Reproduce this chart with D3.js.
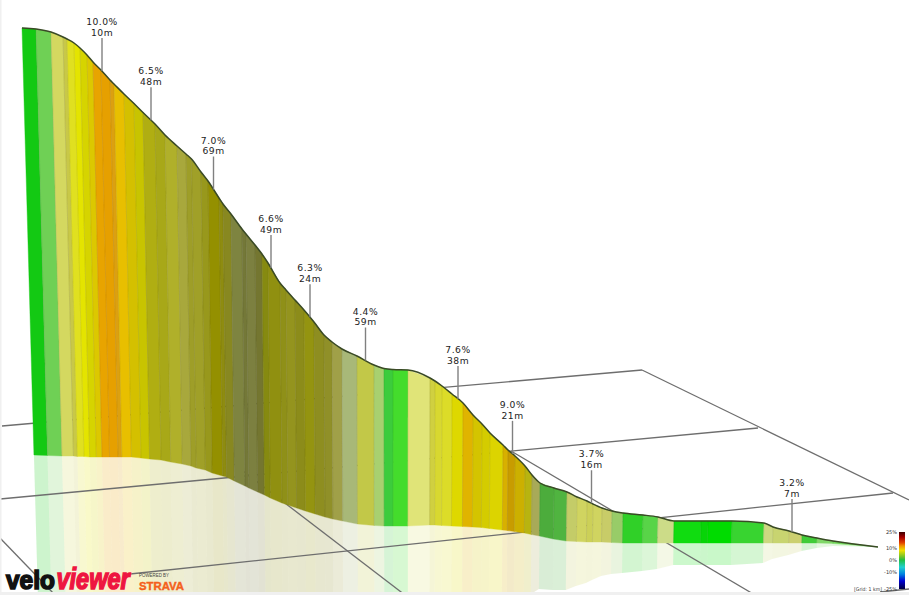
<!DOCTYPE html>
<html>
<head>
<meta charset="utf-8">
<title>Climb profile</title>
<script src="https://cdn.jsdelivr.net/npm/d3@7"></script>
<style>
  html, body { margin: 0; padding: 0; background: #fff; }
  svg { display: block; }
</style>
</head>
<body>
<svg id="chart" width="909" height="595"></svg>
<script>
// distance along the climb (m)
var distance = [0,140,290,410,450,520,580,650,710,790,
  880,920,1020,1120,1210,1330,1430,1550,1640,1695,
  1790,1860,1970,2010,2090,2200,2240,2330,2400,2460,
  2580,2640,2730,2820,2920,3020,3100,3200,3350,3520,
  3620,3710,3860,4080,4130,4200,4300,4410,4510,4600,
  4680,4810,4860,4930,5030,5100,5180,5320,5450,5550,
  5650,5710,5800,5900,6010,6210,6360,6520,6790,6860,
  7100,7420,7510,7670,7800,7950,8110,8560];
var elevation = [519,518,515,510,508,504,499,492,485,477,
  467,463,453,443.5,434.5,423,412,401,393,388,
  375,366,349,343,333,318,313,302,293,284,
  264,257,247,237,225,212,205,198,191,182,
  178.5,177.5,177,169,166,161,153,144,132,123,
  114,102,97,91,81,72,64,59,55,50,
  46,43,39,36,34,32,30,26,26,26,
  26,24,20,16,12,9,6,0];
var ground = [92,91.5,91,91,90.5,90.5,90,90,90,90,
  90,90,90,89,88,87,85,83,81,79,
  77,74,71,70,66,61,59,55,52,49,
  44,42,39,36,33,30,28,26,23,21.5,
  21,21,21,22,22,21.5,21,20.5,20,19.5,
  18.5,17,16.5,15.5,14,12.5,11,8,6,5.5,
  5,5,5,4.5,4,4,4,4,4,4,
  4,4,4,4,4,4,3.5,0];
var segmentColors = ['#13c913','#6fd055','#d4d860','#c8c848','#e0e020','#e4e400','#d6d400','#dcc800','#e8a400','#e6a000',
  '#dca010','#e8bf00','#d4c000','#c8c400','#b0ae12','#a8a818','#b0b02a','#a8a83c','#9e9e28','#a0a028',
  '#98981c','#949000','#8e8c10','#888820','#7e8440','#747838','#7c8040','#747630','#868a10','#909010',
  '#8f9018','#94941e','#8c8c1a','#949410','#8e8e20','#909028','#a0a048','#a8b878','#c2c848','#a8d070',
  '#3ccc3c','#44dc2c','#e0e478','#d0d040','#d8d830','#dcdc28','#ded800','#e0b400','#d4c400','#d4cc00',
  '#dcd400','#d8b000','#c89c00','#ccb000','#b8b410','#a8aa58','#4cac3c','#50b440','#c4cc68','#d0d460',
  '#ccd058','#d0d460','#c8cc68','#98cc68','#30d028','#58d448','#ccdc88','#10dc10','#08d408','#00dc00',
  '#38d430','#ccd880','#c8d470','#ccd070','#40cc38','#80d868','#70d858'];

var labelDistance = [800,1290,1915,2490,2880,3435,4360,4905,5695,7700];
var labelGradient = ['10.0%','6.5%','7.0%','6.6%','6.3%','4.4%','7.6%','9.0%','3.7%','3.2%'];
var labelLength = ['10m','48m','69m','49m','24m','59m','38m','21m','16m','7m'];

var legendGrades = [25,10,0,-10,-25];
var legendTicks = ['25%','10%','0%','-10%','-25%'];
var legendStops = [[25,'#3c0000'],[20,'#a80000'],[15,'#e04000'],[12,'#f09000'],[8,'#f0e000'],[2,'#60c030'],[0,'#20c040'],[-6,'#20d0d0'],[-12,'#0080e0'],[-18,'#0000d0'],[-25,'#000040']];

// floor grid lines, as [x1, y1, x2, y2] on the photo
var gridLines = [[2,426,642,370],[642,370,909,500],[0,499,758,428],[130,574,893,493],
  [0,538,55,595],[230,461,405,595],[511,451,755,595],[880,592,909,589]];

var W = 909, H = 595;
var svg = d3.select('#chart');
var x = d3.scaleLinear().domain([0, 8560]).range([22, 878]);
var y = d3.scaleLinear().domain([0, 519]).range([547, 28]);
var elevationAt = d3.scaleLinear().domain(distance).range(elevation);

// the walls lean towards a vanishing point near the middle of the view
function lean(px, dy) { return (400 - px) * dy * 7.4e-5; }

var points = distance.map(function(d, i) {
  var px = x(d), top = y(elevation[i]), base = y(ground[i]);
  var mirror = 2 * base - top;
  return {
    top: [px, top],
    base: [px + lean(px, base - top), base],
    mirror: [px + lean(px, mirror - top), mirror]
  };
});
var segments = segmentColors.map(function(c, i) { return { color: c, a: points[i], b: points[i + 1] }; });

svg.append('rect').attr('width', W).attr('height', H).attr('fill', '#fff');

// reflection on the floor
svg.append('g').selectAll('polygon').data(segments).enter().append('polygon')
  .attr('points', function(d) { return [d.a.base, d.b.base, d.b.mirror, d.a.mirror].join(' '); })
  .attr('fill', function(d) { return d.color; }).attr('fill-opacity', 0.21);

svg.append('g').selectAll('line').data(gridLines).enter().append('line')
  .attr('x1', function(d) { return d[0]; }).attr('y1', function(d) { return d[1]; })
  .attr('x2', function(d) { return d[2]; }).attr('y2', function(d) { return d[3]; })
  .attr('stroke', '#6e6e6e').attr('stroke-width', 1.3);

// coloured wall
svg.append('g').selectAll('polygon').data(segments).enter().append('polygon')
  .attr('points', function(d) { return [d.a.top, d.b.top, d.b.base, d.a.base].join(' '); })
  .attr('fill', function(d) { return d.color; })
  .attr('stroke', function(d) { return d.color; }).attr('stroke-width', 0.4);

svg.append('g').selectAll('line').data(points.slice(1, -1)).enter().append('line')
  .attr('x1', function(d) { return d.top[0]; }).attr('y1', function(d) { return d.top[1]; })
  .attr('x2', function(d) { return d.base[0]; }).attr('y2', function(d) { return d.base[1]; })
  .attr('stroke', '#000').attr('stroke-opacity', 0.1).attr('stroke-width', 0.8);

var profile = d3.line().x(function(d) { return d.top[0]; }).y(function(d) { return d.top[1]; }).curve(d3.curveMonotoneX);
svg.append('path').attr('d', profile(points)).attr('fill', 'none').attr('stroke', '#3a4a26').attr('stroke-width', 1.5);

// gradient callouts
var callouts = svg.append('g').selectAll('g').data(labelDistance).enter().append('g')
  .attr('transform', function(d) { return 'translate(' + x(d) + ',' + y(elevationAt(d)) + ')'; });
callouts.append('line').attr('y1', -33).attr('y2', 0).attr('stroke', '#808080').attr('stroke-width', 1.4);
callouts.append('text').attr('y', -46).text(function(d, i) { return labelGradient[i]; });
callouts.append('text').attr('y', -35.2).text(function(d, i) { return labelLength[i]; });
callouts.selectAll('text').attr('text-anchor', 'middle').attr('fill', '#222')
  .attr('font-family', 'DejaVu Sans, sans-serif').attr('font-size', 9.2).attr('letter-spacing', 0.5);

// colour legend
var legendY = d3.scaleLinear().domain([-25, -10, 0, 10, 25]).range([589, 572, 560, 548, 532]);
var defs = svg.append('defs');
var grad = defs.append('linearGradient').attr('id', 'gradeScale').attr('x1', 0).attr('y1', 0).attr('x2', 0).attr('y2', 1);
legendStops.forEach(function(s) {
  grad.append('stop').attr('offset', (legendY(s[0]) - 532) / 57).attr('stop-color', s[1]);
});
svg.append('rect').attr('x', 899).attr('y', legendY(25)).attr('width', 6).attr('height', legendY(-25) - legendY(25)).attr('fill', 'url(#gradeScale)');
svg.append('g').selectAll('text').data(legendGrades).enter().append('text')
  .attr('x', 897).attr('y', function(d) { return legendY(d) + 2; })
  .attr('text-anchor', 'end').attr('font-family', 'DejaVu Sans, sans-serif').attr('font-size', 5).attr('fill', '#333')
  .text(function(d, i) { return legendTicks[i]; });
svg.append('text').attr('x', 854).attr('y', 591).attr('font-family', 'DejaVu Sans, sans-serif').attr('font-size', 5)
  .attr('textLength', 28).attr('lengthAdjust', 'spacingAndGlyphs').attr('fill', '#333').text('[Grid: 1 km]');

// logos
var logo = svg.append('g').attr('font-family', 'Liberation Sans, sans-serif').attr('font-weight', 'bold');
logo.append('text').attr('transform', 'translate(6,588.5) scale(0.94,1)').attr('font-size', 26)
  .attr('fill', '#111').attr('stroke', '#111').attr('stroke-width', 1.6).text('velo');
logo.append('text').attr('transform', 'translate(56.5,588.5) scale(0.81,1)').attr('font-size', 29).attr('font-style', 'italic')
  .attr('fill', '#ee1540').attr('stroke', '#ee1540').attr('stroke-width', 1.5).text('viewer');
logo.append('text').attr('x', 139).attr('y', 576.5).attr('font-size', 5).attr('font-weight', 'normal').attr('textLength', 30).attr('lengthAdjust', 'spacingAndGlyphs').attr('fill', '#444').text('POWERED BY');
logo.append('text').attr('x', 139).attr('y', 590).attr('font-size', 11).attr('textLength', 45).attr('lengthAdjust', 'spacingAndGlyphs')
  .attr('fill', '#f4601c').attr('stroke', '#f4601c').attr('stroke-width', 0.4).text('STRAVA');

// light edge of the screenshot
svg.append('rect').attr('x', 0).attr('y', 592).attr('width', W).attr('height', 3).attr('fill', '#f0f0f0');
svg.append('rect').attr('x', 0).attr('y', 0).attr('width', 1.5).attr('height', H).attr('fill', '#f0f0f0');
</script>
</body>
</html>
